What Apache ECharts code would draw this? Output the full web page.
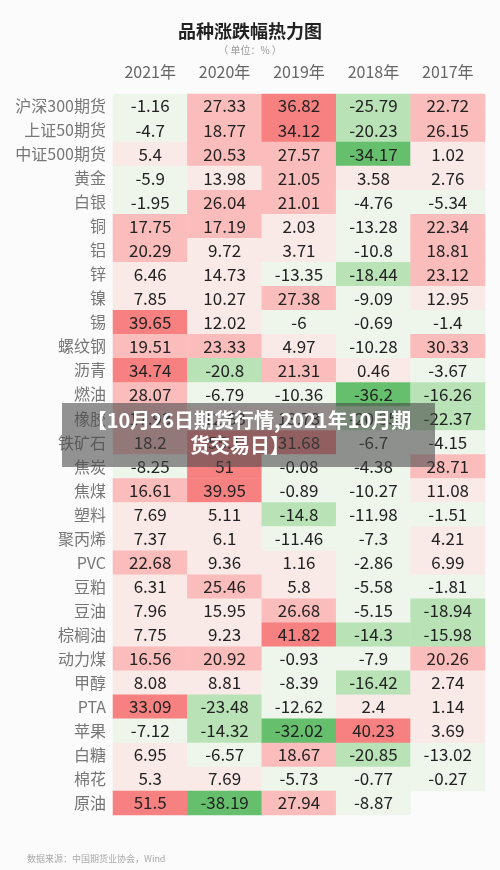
<!DOCTYPE html>
<html>
<head>
<meta charset="utf-8">
<script src="https://cdn.jsdelivr.net/npm/echarts@6/dist/echarts.min.js"></script>
<style>
html,body{margin:0;padding:0;background:#fbfbfc;}
#c{width:500px;height:870px;}
</style>
</head>
<body>
<div id="c"></div>
<script>
var years = ['2021年','2020年','2019年','2018年','2017年'];
var varieties = ['沪深300期货','上证50期货','中证500期货','黄金','白银','铜','铝','锌','镍','锡','螺纹钢','沥青','燃油','橡胶','铁矿石','焦炭','焦煤','塑料','聚丙烯','PVC','豆粕','豆油','棕榈油','动力煤','甲醇','PTA','苹果','白糖','棉花','原油'];
var v2021 = [-1.16,-4.7,5.4,-5.9,-1.95,17.75,20.29,6.46,7.85,39.65,19.51,34.74,28.07,17.93,18.2,-8.25,16.61,7.69,7.37,22.68,6.31,7.96,7.75,16.56,8.08,33.09,-7.12,6.95,5.3,51.5];
var v2020 = [27.33,18.77,20.53,13.98,26.04,17.19,9.72,14.73,10.27,12.02,23.33,-20.8,-6.79,12.63,55.1,51,39.95,5.11,6.1,9.36,25.46,15.95,9.23,20.92,8.81,-23.48,-14.32,-6.57,7.69,-38.19];
var v2019 = [36.82,34.12,27.57,21.05,21.01,2.03,3.71,-13.35,27.38,-6,4.97,21.31,-10.36,13.73,31.68,-0.08,-0.89,-14.8,-11.46,1.16,5.8,26.68,41.82,-0.93,-8.39,-12.62,-32.02,18.67,-5.73,27.94];
var v2018 = [-25.79,-20.23,-34.17,3.58,-4.76,-13.28,-10.8,-18.44,-9.09,-0.69,-10.28,0.46,-36.2,-20.35,-6.7,-4.38,-10.27,-11.98,-7.3,-2.86,-5.58,-5.15,-14.3,-7.9,-16.42,2.4,40.23,-20.85,-0.77,-8.87];
var v2017 = [22.72,26.15,1.02,2.76,-5.34,22.34,18.81,23.12,12.95,-1.4,30.33,-3.67,-16.26,-22.37,-4.15,28.71,11.08,-1.51,4.21,6.99,-1.81,-18.94,-15.98,20.26,2.74,1.14,3.69,-13.02,-0.27,null];

var cols = [v2021, v2020, v2019, v2018, v2017];
var data = [];
cols.forEach(function(col, xi){
  col.forEach(function(v, yi){
    if (v !== null) data.push([xi, yi, v]);
  });
});

var chart = echarts.init(document.getElementById('c'), null, {renderer:'canvas'});
var FONT = '"Noto Sans CJK SC","Noto Sans",sans-serif';
chart.setOption({
  backgroundColor: '#fbfbfc',
  textStyle: {fontFamily: FONT},
  title: [{
    text: '品种涨跌幅热力图',
    left: 'center', top: 17,
    textStyle: {fontSize: 18, fontWeight: 'bold', color: '#222', fontFamily: FONT}
  },{
    text: '（ 单位：% ）',
    left: 'center', top: 40,
    textStyle: {fontSize: 10, fontWeight: 'normal', color: '#999', fontFamily: FONT}
  },{
    text: '数据来源：中国期货业协会，Wind',
    left: 22, top: 849,
    textStyle: {fontSize: 9, fontWeight: 'normal', color: '#aaa', fontFamily: FONT}
  }],
  grid: {left: 113, right: 15, top: 94, bottom: 55, containLabel: false},
  xAxis: {
    type: 'category', data: years, position: 'top',
    axisLine: {show: false}, axisTick: {show: false}, splitLine: {show: false},
    axisLabel: {fontSize: 16, color: '#666', margin: 14, fontFamily: FONT}
  },
  yAxis: {
    type: 'category', data: varieties, inverse: true,
    axisLine: {show: false}, axisTick: {show: false}, splitLine: {show: false},
    axisLabel: {fontSize: 16, color: '#777', margin: 7, fontFamily: FONT}
  },
  visualMap: {
    type: 'piecewise', show: false, dimension: 2,
    pieces: [
      {lt: -30, color: '#66bf6d'},
      {gte: -30, lt: -14, color: '#b9e3b7'},
      {gte: -14, lt: 0, color: '#eef6ec'},
      {gte: 0, lt: 16, color: '#f9e9e7'},
      {gte: 16, lt: 31, color: '#fbbcbc'},
      {gte: 31, color: '#f78080'}
    ]
  },
  series: [{
    type: 'heatmap',
    data: data,
    label: {
      show: true, fontSize: 17, color: '#222', fontFamily: FONT,
      formatter: function(p){ return String(p.value[2]); }
    },
    itemStyle: {borderWidth: 0},
    emphasis: {disabled: true}
  }],
  graphic: [{
    type: 'rect', shape: {x: 62, y: 403, width: 373, height: 64},
    style: {fill: 'rgba(70,70,70,0.58)'}, z: 100
  },{
    type: 'text', x: 249, y: 420, z: 101,
    style: {text: '【10月26日期货行情,2021年10月期', fill: '#fff', font: 'bold 20px ' + FONT, textAlign: 'center', textVerticalAlign: 'middle'}
  },{
    type: 'text', x: 240, y: 445, z: 101,
    style: {text: '货交易日】', fill: '#fff', font: 'bold 20px ' + FONT, textAlign: 'center', textVerticalAlign: 'middle'}
  }]
});
</script>
</body>
</html>
